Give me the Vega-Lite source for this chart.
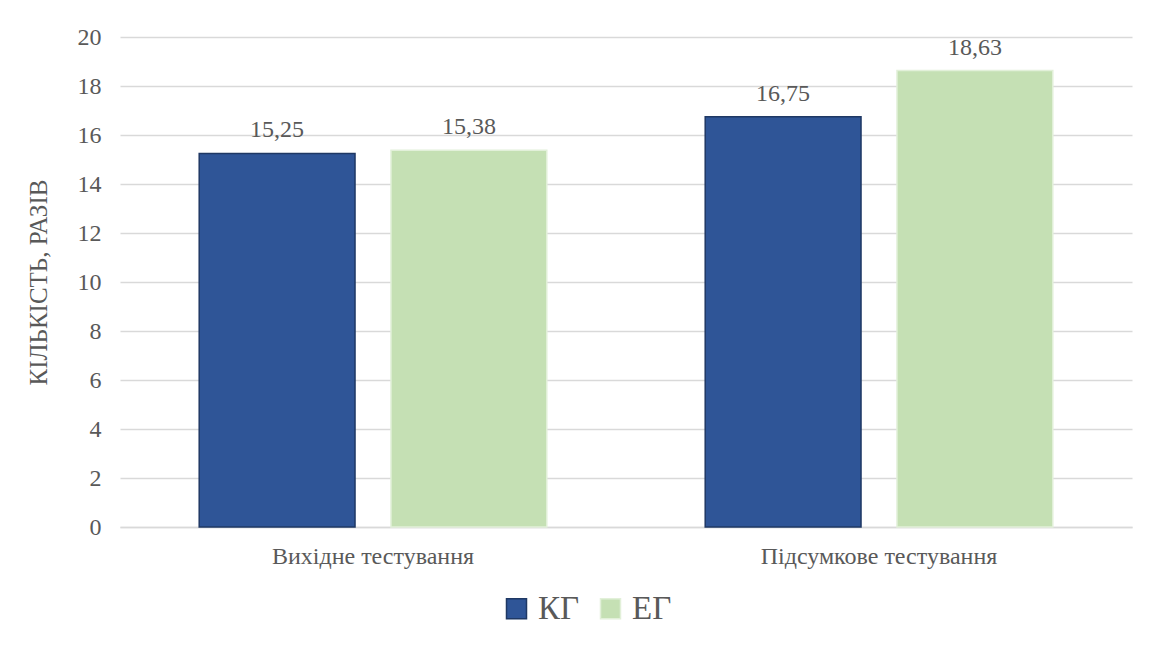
{
  "$schema": "https://vega.github.io/schema/vega-lite/v6.json",
  "width": 1012,
  "height": 490,
  "autosize": {"type": "none"},
  "padding": {"left": 120, "top": 37, "right": 33, "bottom": 127},
  "background": "white",
  "config": {
    "locale": {"number": {"decimal": ",", "thousands": " ", "grouping": [3], "currency": ["", ""]}},
    "view": {"stroke": null},
    "font": "Liberation Serif, Times New Roman, serif"
  },
  "data": {
    "values": [
      {"stage": "Вихідне тестування", "group": "КГ", "value": 15.25},
      {"stage": "Вихідне тестування", "group": "ЕГ", "value": 15.38},
      {"stage": "Підсумкове тестування", "group": "КГ", "value": 16.75},
      {"stage": "Підсумкове тестування", "group": "ЕГ", "value": 18.63}
    ]
  },
  "encoding": {
    "x": {
      "field": "stage", "type": "nominal", "sort": null,
      "scale": {"paddingInner": 0, "paddingOuter": 0},
      "axis": {
        "title": null, "labelAngle": 0, "labelFont": "Liberation Serif, Times New Roman, serif",
        "labelFontSize": 24, "labelColor": "#595959", "labelPadding": 17, "labelLimit": 0,
        "ticks": false, "domainColor": "#d9d9d9", "domainWidth": 1.5
      }
    },
    "xOffset": {
      "field": "group", "type": "nominal", "sort": ["КГ", "ЕГ"],
      "scale": {"paddingInner": 0.1875, "paddingOuter": 0.413}
    },
    "y": {
      "field": "value", "type": "quantitative",
      "scale": {"domain": [0, 20]},
      "axis": {
        "title": "КІЛЬКІСТЬ, РАЗІВ", "titleFont": "Liberation Serif, Times New Roman, serif",
        "titleFontSize": 25, "titleFontWeight": "normal", "titleColor": "#595959",
        "titlePadding": 26,
        "values": [0, 2, 4, 6, 8, 10, 12, 14, 16, 18, 20],
        "labelFont": "Liberation Serif, Times New Roman, serif", "labelFontSize": 24, "labelColor": "#595959",
        "labelPadding": 19, "ticks": false, "domain": false,
        "gridColor": "#d9d9d9", "gridWidth": 1.3
      }
    }
  },
  "layer": [
    {
      "mark": {"type": "bar", "strokeWidth": 1.5},
      "encoding": {
        "color": {
          "field": "group", "type": "nominal",
          "scale": {"domain": ["КГ", "ЕГ"], "range": ["#2f5597", "#c5e0b4"]},
          "legend": {
            "title": null, "orient": "none", "legendX": 380, "legendY": 555,
            "direction": "horizontal",
            "symbolType": "square", "symbolSize": 400, "symbolStrokeWidth": 1.5,
            "labelFont": "Liberation Serif, Times New Roman, serif", "labelFontSize": 33, "labelColor": "#595959",
            "columnPadding": 14, "labelOffset": 5
          }
        },
        "stroke": {
          "field": "group", "type": "nominal",
          "scale": {"domain": ["КГ", "ЕГ"], "range": ["#1f3864", "#e2f0d9"]},
          "legend": null
        }
      }
    },
    {
      "mark": {
        "type": "text", "baseline": "bottom", "dy": -11,
        "font": "Liberation Serif, Times New Roman, serif", "fontSize": 24, "color": "#595959"
      },
      "encoding": {
        "text": {"field": "value", "type": "quantitative", "format": ".2f"}
      }
    }
  ]
}
